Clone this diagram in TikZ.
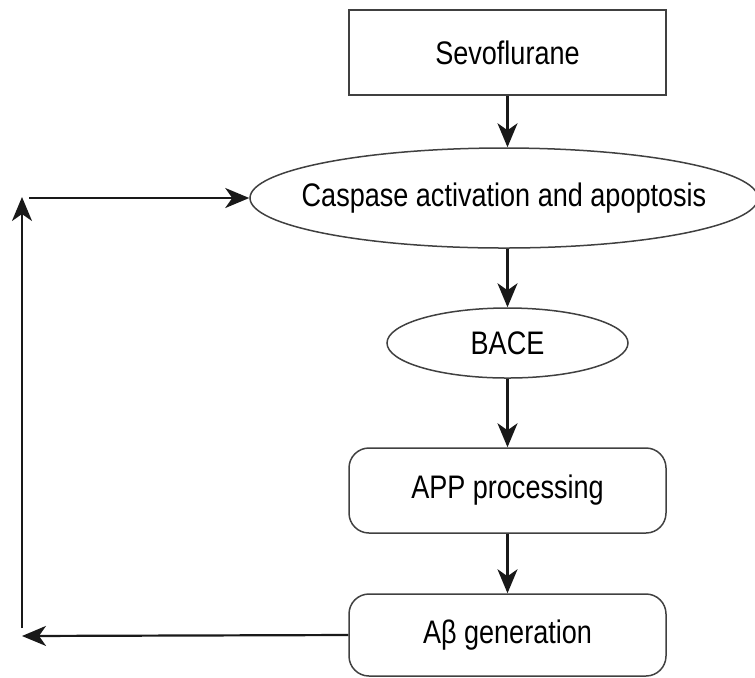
\documentclass[tikz,border=0pt]{standalone}
\usepackage{fontspec}
\setmainfont{Liberation Sans}[FakeStretch=0.83]
\usetikzlibrary{arrows.meta,shapes.geometric}

\begin{document}
\begin{tikzpicture}[x=0.5pt,y=-0.5pt,
		every node/.style={font=\fontsize{16.3}{19}\selectfont},
		box/.style={draw=black!75, line width=0.75pt, minimum width=158.5pt, inner sep=0pt},
		oval/.style={draw=black!75, line width=0.75pt, ellipse, inner xsep=-60pt, inner ysep=0pt},
		flow/.style={-{Stealth[length=12pt,width=10pt,inset=3.5pt]}, line width=1.1pt, black!90}]
		\useasboundingbox (0,0) rectangle (755,677);
		
		\node[box, minimum height=42.5pt] (sevo) at (507.5,52.5) {Sevoflurane};
		\node[oval, minimum width=254pt, minimum height=50pt] (casp) at (504,198) {Caspase activation and apoptosis};
		\node[oval, minimum width=120.5pt, minimum height=35pt] (bace) at (507.5,343) {BACE};
		\node[box, rounded corners=10pt, minimum height=42.5pt] (app) at (507.5,490.5) {APP processing};
		\node[box, rounded corners=10pt, minimum height=41pt] (abeta) at (507.5,635) {Aβ generation};
		
		\draw[flow] (sevo) -- (sevo |- casp.north);
		\draw[flow] (bace |- casp.south) -- (bace);
		\draw[flow] (bace) -- (app);
		\draw[flow] (app) -- (abeta);
		
		% feedback loop
		\coordinate (fbl) at (22,636);
		\coordinate (fbb) at (22,628);
		\coordinate (fbt) at (22,197);
		\coordinate (fbs) at (29,198);
		\draw[flow] (abeta.west) -- (fbl);
		\draw[flow] (fbb) -- (fbt);
		\draw[flow] (fbs) -- (casp.west);
	\end{tikzpicture}
\end{document}
